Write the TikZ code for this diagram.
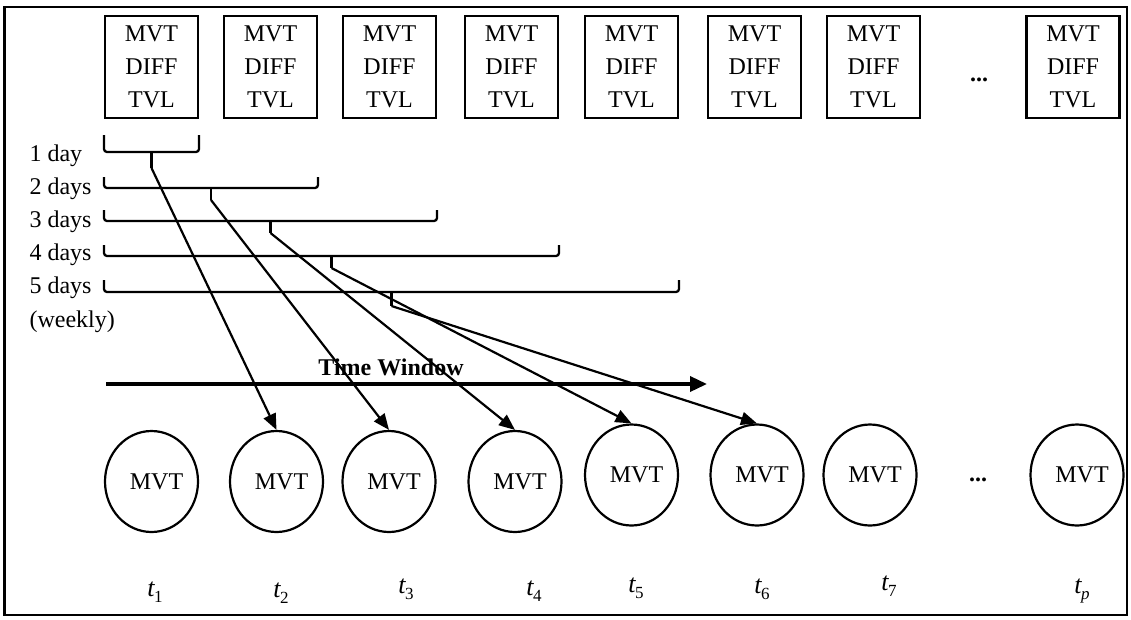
\documentclass[tikz,border=0pt]{standalone}
\usepackage{fontspec}
\setmainfont{Liberation Serif}
\usetikzlibrary{shapes.geometric,arrows.meta}
\newcommand{\tsub}[1]{\textit{t}\kern-1pt\raisebox{-6pt}{\fontsize{17}{20}\selectfont #1}}
\begin{document}
\begin{tikzpicture}[x=1pt,y=-1pt,
  txt/.style={font=\bfseries\fontsize{24}{33}\selectfont},
  box/.style={draw,line width=2.5pt,minimum width=93pt,minimum height=102pt,inner sep=0pt,align=center,font=\fontsize{24}{33}\selectfont},
  circ/.style={draw,ellipse,line width=2.2pt,minimum width=93pt,minimum height=101pt,inner sep=0pt,font=\fontsize{24}{28}\selectfont},
  brk/.style={line width=2.3pt,rounded corners=3pt},
  conn/.style={line width=2.2pt,-{Triangle[length=16pt,width=13pt]}},
  lbl/.style={anchor=base west,font=\fontsize{24}{28}\selectfont},
  tl/.style={font=\fontsize{26}{28}\selectfont}]
\useasboundingbox (0,0) rectangle (1131,619);
\draw[line width=2.5pt] (4.5,7) rectangle (1127,615);

% top boxes
\node[box] (b1) at (151.5,67) {MVT\\DIFF\\TVL};
\node[box] (b2) at (270.5,67) {MVT\\DIFF\\TVL};
\node[box] (b3) at (389.5,67) {MVT\\DIFF\\TVL};
\node[box] (b4) at (511.5,67) {MVT\\DIFF\\TVL};
\node[box] (b5) at (631.5,67) {MVT\\DIFF\\TVL};
\node[box] (b6) at (754.5,67) {MVT\\DIFF\\TVL};
\node[box] (b7) at (873.5,67) {MVT\\DIFF\\TVL};
\node[txt] (d1) at (979,80) {...};
\node[box] (b8) at (1073,67) {MVT\\DIFF\\TVL};

% day labels
\node[lbl] (l1) at (26,161) {1 day};
\node[lbl] (l2) at (26,194) {2 days};
\node[lbl] (l3) at (26,227) {3 days};
\node[lbl] (l4) at (26,260) {4 days};
\node[lbl] (l5) at (26,293) {5 days};
\node[lbl] (l6) at (26,327) {(weekly)};

% brackets
\draw[brk] (104,135) -- (104,152) -- (199,152) -- (199,135);
\draw[brk] (104,177) -- (104,188) -- (318,188) -- (318,177);
\draw[brk] (104,210) -- (104,221) -- (437,221) -- (437,210);
\draw[brk] (104,245) -- (104,256) -- (559,256) -- (559,245);
\draw[brk] (104,280) -- (104,292) -- (679,292) -- (679,280);
\coordinate (s1) at (151.5,168);
\coordinate (s2) at (211,200);
\coordinate (s3) at (270.5,233);
\coordinate (s4) at (331.5,268);
\coordinate (s5) at (391.5,306);
\draw[line width=2.3pt] (151.5,152) -- (s1);
\draw[line width=2.3pt] (211,188) -- (s2);
\draw[line width=2.3pt] (270.5,221) -- (s3);
\draw[line width=2.3pt] (331.5,256) -- (s4);
\draw[line width=2.3pt] (391.5,292) -- (s5);

% circles
\node[circ] (c1) at (151.5,481.5) {\hspace*{10pt}\raisebox{-4pt}{MVT}};
\node[circ] (c2) at (276.5,481.5) {\hspace*{10pt}\raisebox{-4pt}{MVT}};
\node[circ] (c3) at (389,481.5) {\hspace*{10pt}\raisebox{-4pt}{MVT}};
\node[circ] (c4) at (515,481.5) {\hspace*{10pt}\raisebox{-4pt}{MVT}};
\node[circ] (c5) at (631.5,475) {\hspace*{10pt}\raisebox{-4pt}{MVT}};
\node[circ] (c6) at (757,475) {\hspace*{10pt}\raisebox{-4pt}{MVT}};
\node[circ] (c7) at (870,475) {\hspace*{10pt}\raisebox{-4pt}{MVT}};
\node[txt] (d2) at (978,480) {...};
\node[circ] (c8) at (1077,475) {\hspace*{10pt}\raisebox{-4pt}{MVT}};

% time labels
\node[tl] (t1) at (155,592) {\tsub{1}};
\node[tl] (t2) at (281,593) {\tsub{2}};
\node[tl] (t3) at (406,589) {\tsub{3}};
\node[tl] (t4) at (534,591) {\tsub{4}};
\node[tl] (t5) at (636,588) {\tsub{5}};
\node[tl] (t6) at (762,589) {\tsub{6}};
\node[tl] (t7) at (889,586) {\tsub{7}};
\node[tl] (tp) at (1082,591) {\tsub{\textit{p}}};

% time window
\node[font=\bfseries\fontsize{24}{28}\selectfont] (tw) at (391,367) {Time Window};
\coordinate (tw0) at (106,384);
\coordinate (tw1) at (707,384);
\draw[line width=3.5pt,-{Triangle[length=17pt,width=15pt]}] (tw0) -- (tw1);

% connectors
\draw[conn] (s1) -- (c2.north);
\draw[conn] (s2) -- (c3.north);
\draw[conn] (s3) -- (c4.north);
\draw[conn] (s4) -- (c5.north);
\draw[conn] (s5) -- (c6.north);
\end{tikzpicture}
\end{document}
